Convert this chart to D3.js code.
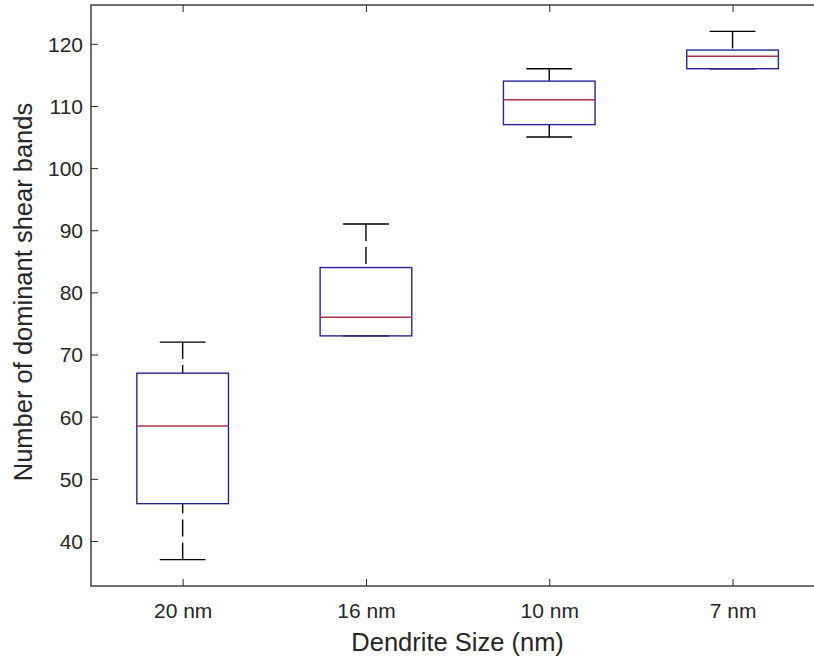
<!DOCTYPE html>
<html>
<head>
<meta charset="utf-8">
<script src="https://cdn.jsdelivr.net/npm/d3@7"></script>
<style>
  body { margin: 0; background: #fff; }
  text { font-family: "Liberation Sans", Arial, Helvetica, sans-serif; fill: #262626; }
</style>
</head>
<body>
<svg width="814" height="662"></svg>
<script>
// box plot stats
var categories = ["20 nm", "16 nm", "10 nm", "7 nm"];
var whiskerLow  = [37, 73, 105, 116];
var q1          = [46, 73, 107, 116];
var medians     = [58.5, 76, 111, 118];
var q3          = [67, 84, 114, 119];
var whiskerHigh = [72, 91, 116, 122];
var yTicks = [40, 50, 60, 70, 80, 90, 100, 110, 120];

var svg = d3.select("svg"),
    plotLeft = 91, plotTop = 5, plotBottom = 586;

var x = d3.scaleLinear().domain([0.5, 4.5]).range([plotLeft, plotLeft + 4 * 183.3]);
var y = d3.scaleLinear().domain([32.75, 126.25]).range([plotBottom, plotTop]);

var plotRight = x(4.5);

var boxes = categories.map(function(c, i) {
  return {pos: i + 1, lo: whiskerLow[i], q1: q1[i], med: medians[i], q3: q3[i], hi: whiskerHigh[i]};
});

// axes, ticks pointing inward like matlab
var yAxis = svg.append("g")
    .attr("transform", "translate(" + plotLeft + ",0)")
    .call(d3.axisLeft(y).tickValues(yTicks).tickSize(-7).tickSizeOuter(0).tickPadding(8));
svg.append("g")
    .attr("transform", "translate(" + plotRight + ",0)")
    .call(d3.axisRight(y).tickValues(yTicks).tickSize(-7).tickSizeOuter(0).tickFormat(""));
svg.append("g")
    .attr("transform", "translate(0," + plotBottom + ")")
    .call(d3.axisBottom(x).tickValues([1, 2, 3, 4])
      .tickFormat(function(d) { return categories[d - 1]; })
      .tickSize(-7).tickSizeOuter(0).tickPadding(17));
svg.append("g")
    .attr("transform", "translate(0," + plotTop + ")")
    .call(d3.axisTop(x).tickValues([1, 2, 3, 4]).tickSize(-7).tickSizeOuter(0).tickFormat(""));

svg.selectAll(".domain").remove();
svg.selectAll(".tick line").style("stroke", "#262626").style("stroke-width", 1);
svg.selectAll(".tick text").style("font-size", "21px").style("fill", "#262626")
   .attr("font-family", null);

yAxis.selectAll(".tick text").attr("dy", "0.35em");

// frame
svg.append("rect")
    .attr("x", plotLeft).attr("y", plotTop)
    .attr("width", plotRight - plotLeft).attr("height", plotBottom - plotTop)
    .style("fill", "none").style("stroke", "#262626").style("stroke-width", 1.3);

var g = svg.append("g").selectAll("g")
    .data(boxes)
    .enter().append("g");

// whiskers (dashed, from cap toward box)
g.append("line")
    .attr("x1", function(d) { return x(d.pos); })
    .attr("x2", function(d) { return x(d.pos); })
    .attr("y1", function(d) { return y(d.hi); })
    .attr("y2", function(d) { return y(d.q3); })
    .style("stroke", "#000").style("stroke-width", 1.4)
    .style("stroke-dasharray", "17,6");
g.append("line")
    .attr("x1", function(d) { return x(d.pos); })
    .attr("x2", function(d) { return x(d.pos); })
    .attr("y1", function(d) { return y(d.lo); })
    .attr("y2", function(d) { return y(d.q1); })
    .style("stroke", "#000").style("stroke-width", 1.4)
    .style("stroke-dasharray", "17,6");

// caps
g.append("line")
    .attr("x1", function(d) { return x(d.pos - 0.125); })
    .attr("x2", function(d) { return x(d.pos + 0.125); })
    .attr("y1", function(d) { return y(d.hi); })
    .attr("y2", function(d) { return y(d.hi); })
    .style("stroke", "#000").style("stroke-width", 1.4);
g.append("line")
    .attr("x1", function(d) { return x(d.pos - 0.125); })
    .attr("x2", function(d) { return x(d.pos + 0.125); })
    .attr("y1", function(d) { return y(d.lo); })
    .attr("y2", function(d) { return y(d.lo); })
    .style("stroke", "#000").style("stroke-width", 1.4);

// boxes
g.append("rect")
    .attr("x", function(d) { return x(d.pos - 0.25); })
    .attr("width", function(d) { return x(d.pos + 0.25) - x(d.pos - 0.25); })
    .attr("y", function(d) { return y(d.q3); })
    .attr("height", function(d) { return y(d.q1) - y(d.q3); })
    .style("fill", "none").style("stroke", "#25259a").style("stroke-width", 1.4);

// medians
g.append("line")
    .attr("x1", function(d) { return x(d.pos - 0.25); })
    .attr("x2", function(d) { return x(d.pos + 0.25); })
    .attr("y1", function(d) { return y(d.med); })
    .attr("y2", function(d) { return y(d.med); })
    .style("stroke", "#b0304a").style("stroke-width", 1.3);

// labels
svg.append("text")
    .attr("x", (plotLeft + plotRight) / 2).attr("y", 651)
    .attr("text-anchor", "middle")
    .style("font-size", "25.5px")
    .text("Dendrite Size (nm)");

svg.append("text")
    .attr("transform", "translate(32,292) rotate(-90)")
    .attr("text-anchor", "middle")
    .style("font-size", "25.5px")
    .text("Number of dominant shear bands");
</script>
</body>
</html>
